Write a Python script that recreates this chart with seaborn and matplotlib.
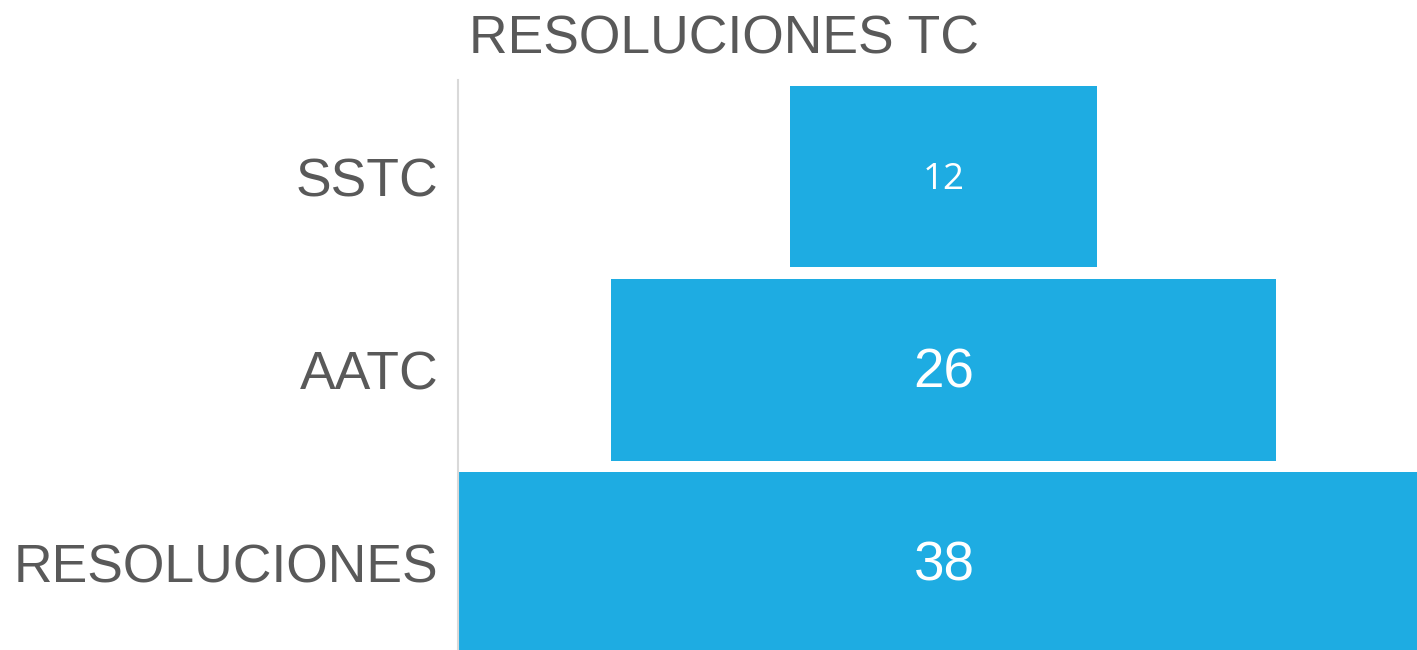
import matplotlib as mpl
mpl.use('Agg')

import matplotlib.pyplot as plt
import pandas as pd
import seaborn as sns

# funnel data
stages = ['SSTC', 'AATC', 'RESOLUCIONES']
values = [12, 26, 38]
value_labels = ['12', '26', '38']
label_sizes = [26.5, 39.5, 39.5]

sns.set_style('white')
plt.rcParams['font.family'] = ['Liberation Sans', 'DejaVu Sans']

blue = '#1eace2'
grey = '#595959'

# split each bar in two halves around zero so the funnel is centred
dset = pd.DataFrame({'stage': stages + stages,
                     'half': [v / 2 for v in values] + [-v / 2 for v in values]})
pos = dset[dset['half'] > 0]
neg = dset[dset['half'] < 0]

fig = plt.figure(figsize=(14.17, 6.5), dpi=100)
ax = fig.add_axes([0.3232, 0.0, 0.6768, 0.877])
for part in [pos, neg]:
    sns.barplot(x='half', y='stage', data=part, order=stages, color=blue,
                saturation=1, width=0.94, orient='h', errorbar=None, ax=ax,
                linewidth=0)

ax.set_xlim(-max(values) / 2, 18.5)
ax.set_ylim(2.45, -0.5)
ax.set_xlabel('')
ax.set_ylabel('')
ax.set_xticks([])
for s in ['top', 'right', 'bottom']:
    ax.spines[s].set_visible(False)
ax.spines['left'].set_color('#d9d9d9')
ax.spines['left'].set_linewidth(1.5)
ax.tick_params(axis='y', length=0, pad=14, labelsize=38.5, labelcolor=grey)

for i, (lab, fs) in enumerate(zip(value_labels, label_sizes)):
    fam = ['Open Sans', 'DejaVu Sans'] if fs < 30 else ['Liberation Sans']
    ax.text(0, i + 0.02, lab, ha='center', va='center', color='white',
            fontsize=fs, family=fam)

fig.text(0.511, 0.94, 'RESOLUCIONES TC', ha='center', va='center',
         fontsize=38.5, color=grey)

fig.savefig('out.png', dpi=100)
plt.close()
